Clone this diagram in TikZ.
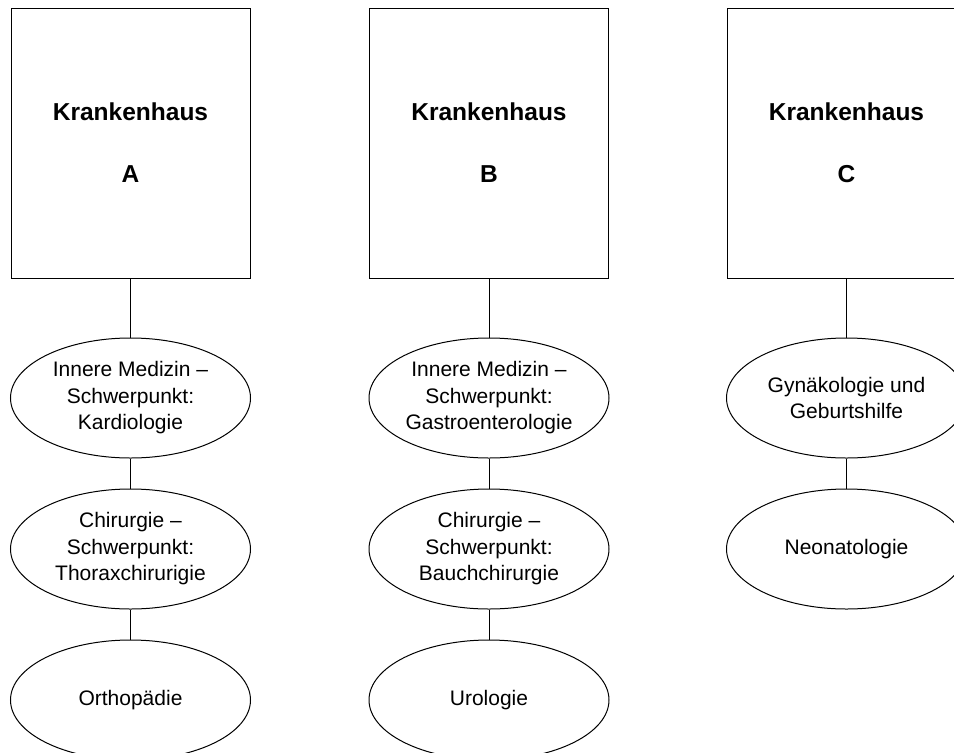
\documentclass[tikz,border=0pt]{standalone}
\usepackage{fontspec}
\setmainfont{Liberation Sans}
\usetikzlibrary{positioning,shapes.geometric}

\begin{document}
\begin{tikzpicture}[x=1pt,y=-1pt,line width=1pt,
  haus/.style={draw,rectangle,minimum width=239pt,minimum height=270pt,align=center,
    font=\fontsize{24.5}{62}\selectfont\bfseries},
  fach/.style={draw,ellipse,minimum width=240pt,minimum height=120pt,inner sep=0pt,align=center,
    font=\fontsize{21}{26.5}\selectfont}]
\useasboundingbox (0,0) rectangle (954,753);
\clip (0,0) rectangle (954,753);
% three hospitals, each with its departments stacked below
\foreach \x/\id in {130.5/A, 489/B, 846.5/C}{
  \node[haus] (haus\id) at (\x,143) {Krankenhaus\\\id};
}
% Krankenhaus A
\node[fach,below=59pt of hausA] (innereA) {Innere Medizin –\\Schwerpunkt:\\Kardiologie};
\node[fach,below=30pt of innereA] (chirA) {Chirurgie –\\Schwerpunkt:\\Thoraxchirurigie};
\node[fach,below=30pt of chirA] (orthoA) {Orthopädie};
% Krankenhaus B
\node[fach,below=59pt of hausB] (innereB) {Innere Medizin –\\Schwerpunkt:\\Gastroenterologie};
\node[fach,below=30pt of innereB] (chirB) {Chirurgie –\\Schwerpunkt:\\Bauchchirurgie};
\node[fach,below=30pt of chirB] (uroB) {Urologie};
% Krankenhaus C
\node[fach,below=59pt of hausC] (gynC) {Gynäkologie und\\Geburtshilfe};
\node[fach,below=30pt of gynC] (neoC) {Neonatologie};
% connectors
\draw (hausA) -- (innereA) (innereA) -- (chirA) (chirA) -- (orthoA);
\draw (hausB) -- (innereB) (innereB) -- (chirB) (chirB) -- (uroB);
\draw (hausC) -- (gynC) (gynC) -- (neoC);
\end{tikzpicture}
\end{document}
